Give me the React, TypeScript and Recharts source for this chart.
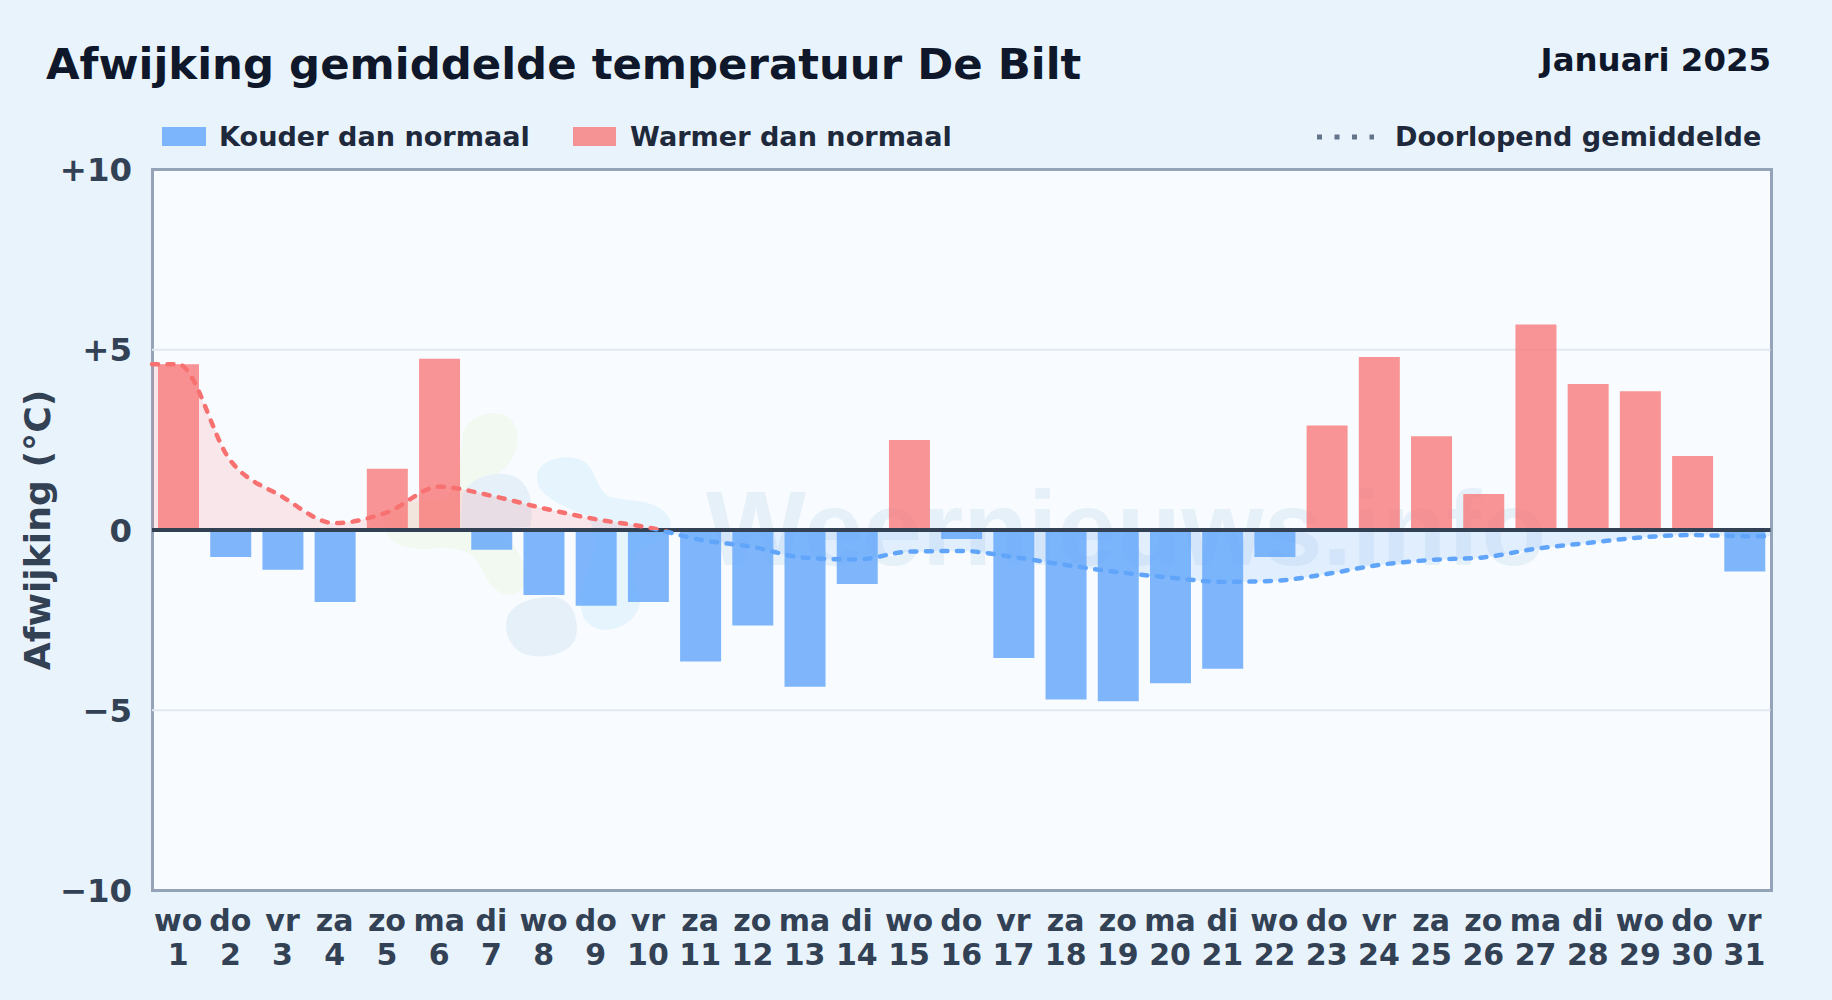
import { Area, Bar, CartesianGrid, ComposedChart, Line, ReferenceLine, XAxis, YAxis } from 'recharts';

const weekdays = ['wo', 'do', 'vr', 'za', 'zo', 'ma', 'di', 'wo', 'do', 'vr', 'za', 'zo', 'ma', 'di', 'wo', 'do', 'vr', 'za', 'zo', 'ma', 'di', 'wo', 'do', 'vr', 'za', 'zo', 'ma', 'di', 'wo', 'do', 'vr'];
const days = [1, 2, 3, 4, 5, 6, 7, 8, 9, 10, 11, 12, 13, 14, 15, 16, 17, 18, 19, 20, 21, 22, 23, 24, 25, 26, 27, 28, 29, 30, 31];
const deviation = [4.6, -0.75, -1.1, -2.0, 1.7, 4.75, -0.55, -1.8, -2.1, -2.0, -3.65, -2.65, -4.35, -1.5, 2.5, -0.25, -3.55, -4.7, -4.75, -4.25, -3.85, -0.75, 2.9, 4.8, 2.6, 1.0, 5.7, 4.05, 3.85, 2.05, -1.15];
const runningMean = [4.6, 1.93, 0.92, 0.19, 0.49, 1.2, 0.95, 0.6, 0.3, 0.07, -0.27, -0.47, -0.77, -0.82, -0.6, -0.58, -0.75, -0.97, -1.17, -1.32, -1.44, -1.41, -1.22, -0.97, -0.83, -0.76, -0.52, -0.36, -0.21, -0.14, -0.17];
const yTicks = [-10, -5, 0, 5, 10];

const COLD = '#60a5fa';
const WARM = '#f87171';
const INK = '#334155';
const FONT = '"DejaVu Sans", sans-serif';

const barRows = days.map((d, i) => ({
  x: d,
  warm: deviation[i] > 0 ? deviation[i] : null,
  cold: deviation[i] < 0 ? deviation[i] : null,
}));

// the running mean runs on to the plot edges, so it gets an extra row on both sides
// and its own hidden number axis (band of the day axis stays one day wide)
const meanRows = [
  { x: 0.5, mean: runningMean[0] },
  ...days.map((d, i) => ({ x: d, mean: runningMean[i] })),
  { x: 31.5, mean: runningMean[30] },
];

const formatY = (v: number) => (v > 0 ? `+${v}` : v < 0 ? `\u2212${Math.abs(v)}` : '0');

function DayTick({ x, y, payload }: any) {
  return (
    <text x={x} textAnchor="middle" fontFamily={FONT} fontWeight={700} fontSize={30} fill={INK}>
      <tspan x={x} y={y + 32}>{weekdays[payload.value - 1]}</tspan>
      <tspan x={x} y={y + 66}>{payload.value}</tspan>
    </text>
  );
}

function Watermark() {
  return (
    <svg width={1832} height={1000} style={{ position: 'absolute', left: 0, top: 0 }}>
      <g fill="#f1f9f1">
        <path d="M462 440 C462 418 490 408 506 416 C524 426 520 458 502 470 C488 480 488 500 500 520 C510 545 530 560 525 585 C515 602 495 596 485 575 C476 555 468 548 440 548 C410 552 385 545 385 525 C385 505 410 498 430 502 C452 506 462 470 462 440 Z" />
      </g>
      <g fill="#e6f0f9">
        <path d="M462 500 C462 482 490 470 510 475 C530 480 535 505 530 527 L462 530 C460 520 462 510 462 500 Z" />
        <path d="M506 625 C506 605 530 596 555 597 C575 600 580 625 575 640 C565 658 535 660 520 652 C510 645 506 635 506 625 Z" />
      </g>
      <g fill="#e6f4fe">
        <path d="M537 475 C540 458 570 452 585 462 C597 472 596 490 610 497 C630 502 660 498 670 520 C672 530 668 535 660 540 C630 550 625 560 640 600 C640 620 615 635 595 628 C578 620 578 600 585 580 C595 555 600 530 585 515 C560 505 535 495 537 475 Z" />
      </g>
      <text x={706} y={565} fontFamily='"Liberation Sans", sans-serif' fontWeight={700} fontSize={106} fill="#e6f0f9">
        Weernieuws.info
      </text>
    </svg>
  );
}

function Legend() {
  const label = { position: 'absolute', top: 120, fontFamily: FONT, fontWeight: 700, fontSize: 27.1, lineHeight: '34px', color: '#1e293b', whiteSpace: 'nowrap' } as const;
  return (
    <>
      <div style={{ position: 'absolute', left: 162, top: 127, width: 44, height: 19, background: COLD, opacity: 0.8 }} />
      <div style={{ ...label, left: 219 }}>Kouder dan normaal</div>
      <div style={{ position: 'absolute', left: 573, top: 127, width: 43, height: 19, background: WARM, opacity: 0.75 }} />
      <div style={{ ...label, left: 630 }}>Warmer dan normaal</div>
      <svg width={60} height={10} style={{ position: 'absolute', left: 1317, top: 132 }}>
        <line x1={0} y1={5} x2={57} y2={5} stroke="#64748b" strokeWidth={5} strokeDasharray="5 12.5" />
      </svg>
      <div style={{ ...label, left: 1395 }}>Doorlopend gemiddelde</div>
    </>
  );
}

export default function App() {
  return (
    <div style={{ position: 'fixed', left: 0, top: 0, width: 1832, height: 1000, background: '#e8f3fc', overflow: 'hidden' }}>
      <div style={{ position: 'absolute', left: 46, top: 35, fontFamily: FONT, fontWeight: 700, fontSize: 43.4, lineHeight: '58px', color: '#0f172a', whiteSpace: 'nowrap' }}>
        Afwijking gemiddelde temperatuur De Bilt
      </div>
      <div style={{ position: 'absolute', right: 61, top: 40, fontFamily: FONT, fontWeight: 700, fontSize: 32.4, lineHeight: '40px', color: '#0f172a', whiteSpace: 'nowrap' }}>
        Januari 2025
      </div>
      <Legend />
      <div style={{ position: 'absolute', left: 153, top: 169.5, width: 1618.5, height: 721, background: '#f8fbff' }} />
      <Watermark />
      <div style={{ position: 'absolute', left: 151, top: 168, width: 1621.5, height: 724, boxSizing: 'border-box', border: '3px solid #94a3b8' }} />
      <div style={{ position: 'absolute', left: 0, top: 0 }}>
        <ComposedChart
          width={1832}
          height={1000}
          data={barRows}
          margin={{ top: 169.5, right: 61.5, bottom: 29.5, left: 9 }}
        >
          <defs>
            <linearGradient id="meanFill" gradientUnits="userSpaceOnUse" x1={0} y1={169.5} x2={0} y2={890.5}>
              <stop offset="50%" stopColor={WARM} stopOpacity={0.15} />
              <stop offset="50%" stopColor={COLD} stopOpacity={0.15} />
            </linearGradient>
            <linearGradient id="meanStroke" gradientUnits="userSpaceOnUse" x1={0} y1={169.5} x2={0} y2={890.5}>
              <stop offset="50%" stopColor={WARM} />
              <stop offset="50%" stopColor={COLD} />
            </linearGradient>
          </defs>
          <CartesianGrid vertical={false} horizontalValues={[-5, 5]} stroke="#e2e8f0" strokeWidth={2} />
          <XAxis
            dataKey="x"
            interval={0}
            height={80}
            axisLine={false}
            tickLine={false}
            tick={<DayTick />}
          />
          <XAxis xAxisId="edge" type="number" dataKey="x" domain={[0.5, 31.5]} hide />
          <YAxis
            type="number"
            domain={[-10, 10]}
            ticks={yTicks}
            interval={0}
            width={143}
            axisLine={false}
            tickLine={false}
            tickSize={0}
            tickMargin={20}
            tickFormatter={formatY}
            tick={{ fontFamily: FONT, fontWeight: 700, fontSize: 32.4, fill: INK }}
            label={{ value: 'Afwijking (°C)', angle: -90, position: 'insideLeft', offset: 28, fontFamily: FONT, fontWeight: 700, fontSize: 36.2, fill: INK, style: { textAnchor: 'middle' } }}
          />
          <Area xAxisId="edge" data={meanRows} type="monotone" dataKey="mean" baseValue={0} stroke="none" fill="url(#meanFill)" fillOpacity={1} isAnimationActive={false} />
          <Bar dataKey="warm" stackId="day" barSize={41} fill={WARM} fillOpacity={0.75} isAnimationActive={false} />
          <Bar dataKey="cold" stackId="day" barSize={41} fill={COLD} fillOpacity={0.8} isAnimationActive={false} />
          <ReferenceLine y={0} stroke={INK} strokeWidth={4} />
          <Line
            xAxisId="edge"
            data={meanRows}
            type="monotone"
            dataKey="mean"
            stroke="url(#meanStroke)"
            strokeWidth={4.5}
            strokeLinecap="round"
            strokeDasharray="6 9.5"
            dot={false}
            activeDot={false}
            isAnimationActive={false}
          />
        </ComposedChart>
      </div>
    </div>
  );
}
